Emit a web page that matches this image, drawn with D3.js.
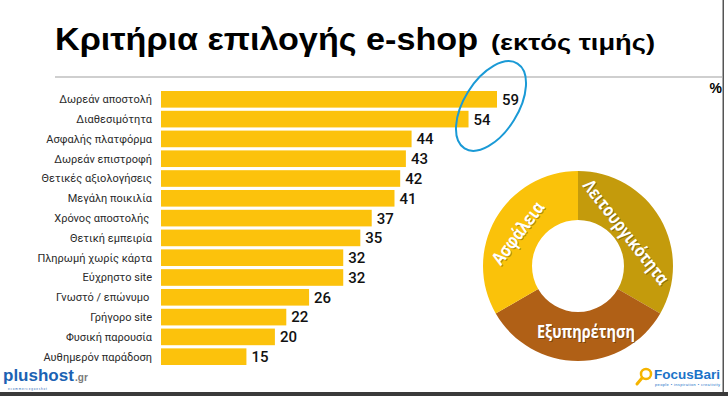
<!DOCTYPE html>
<html>
<head>
<meta charset="utf-8">
<script src="https://cdn.jsdelivr.net/npm/d3@7"></script>
<style>
 body { margin: 0; background: #fff; }
 svg { display: block; }
</style>
</head>
<body>
<svg width="728" height="396"></svg>
<script>
// Data.

var categories = ['Δωρεάν αποστολή', 'Διαθεσιμότητα', 'Ασφαλής πλατφόρμα', 'Δωρεάν επιστροφή',
 'Θετικές αξιολογήσεις', 'Μεγάλη ποικιλία', 'Χρόνος αποστολής ', 'Θετική εμπειρία',
 'Πληρωμή χωρίς κάρτα', 'Εύχρηστο site', 'Γνωστό / επώνυμο ', 'Γρήγορο site',
 'Φυσική παρουσία', 'Αυθημερόν παράδοση'];
var values = [59, 54, 44, 43, 42, 41, 37, 35, 32, 32, 26, 22, 20, 15];

var donutLabels = ['Λειτουργικότητα', 'Εξυπηρέτηση', 'Ασφάλεια'];
var donutShares = [1, 1, 1];
var donutColors = ['#c49b0c', '#b06016', '#fac20a'];

var svg = d3.select('svg');

// Frame of the slide.

svg.append('rect').attr('x', 0).attr('y', 392).attr('width', 728).attr('height', 4).attr('fill', '#3a3a3a');
svg.append('rect').attr('x', 722.5).attr('y', 0).attr('width', 1.5).attr('height', 392).attr('fill', '#555');

// Title and rule.

var title = svg.append('text')
 .attr('x', 55)
 .attr('y', 50)
 .style('font-family', 'Liberation Sans, Arial, sans-serif')
 .style('font-weight', 'bold')
 .attr('fill', '#000');
title.append('tspan').style('font-size', '32px').attr('textLength', 423).attr('lengthAdjust', 'spacingAndGlyphs').text('Κριτήρια επιλογής e-shop');
title.append('tspan').attr('x', 491).style('font-size', '22px').attr('textLength', 164).attr('lengthAdjust', 'spacingAndGlyphs').text('(εκτός τιμής)');

svg.append('line')
 .attr('x1', 55).attr('x2', 722)
 .attr('y1', 77).attr('y2', 77)
 .attr('stroke', '#cfcfcf')
 .attr('stroke-width', 2);

svg.append('text')
 .attr('x', 722).attr('y', 93)
 .attr('text-anchor', 'end')
 .style('font-family', 'Liberation Sans, Arial, sans-serif')
 .style('font-weight', 'bold')
 .style('font-size', '14px')
 .text('%');

// Bars.

var x = d3.scaleLinear()
 .domain([0, 59])
 .range([161, 497]);

var y = d3.scaleBand()
 .domain(categories)
 .range([91, 365])
 .paddingInner(0.16)
 .paddingOuter(0);

var rows = svg.append('g')
 .selectAll('g')
 .data(categories)
 .enter().append('g');

rows.append('rect')
 .attr('x', x(0))
 .attr('y', function(d) { return y(d); })
 .attr('width', function(d, i) { return x(values[i]) - x(0); })
 .attr('height', y.bandwidth())
 .attr('fill', '#fcc20c');

rows.append('text')
 .attr('x', 152)
 .attr('y', function(d) { return y(d) + y.bandwidth() / 2; })
 .attr('dy', '0.35em')
 .attr('text-anchor', 'end')
 .style('white-space', 'pre')
 .style('font-family', 'Roboto, sans-serif')
 .style('font-size', '11px')
 .attr('fill', '#2a2a2a')
 .text(function(d) { return d; });

rows.append('text')
 .attr('x', function(d, i) { return x(values[i]) + 5; })
 .attr('y', function(d) { return y(d) + y.bandwidth() / 2; })
 .attr('dy', '0.36em')
 .style('font-family', 'Roboto, sans-serif')
 .style('font-weight', 500)
 .style('font-size', '15px')
 .attr('fill', '#111')
 .text(function(d, i) { return values[i]; });

// Blue highlight ring around the top two values.

svg.append('ellipse')
 .attr('transform', 'translate(491,106) rotate(-58)')
 .attr('rx', 50)
 .attr('ry', 27)
 .attr('fill', 'none')
 .attr('stroke', '#1a9ad6')
 .attr('stroke-width', 2);

// Donut of the three groups.

var cx = 578, cy = 266;
var pie = d3.pie().sort(null)(donutShares);
var arc = d3.arc().innerRadius(46).outerRadius(95);

var donut = svg.append('g').attr('transform', 'translate(' + cx + ',' + cy + ')');

donut.selectAll('path')
 .data(pie)
 .enter().append('path')
 .attr('d', arc)
 .attr('fill', function(d, i) { return donutColors[i]; });

var labelPos = [
 {dx: 48, dy: -34, rot: 52, len: 127},
 {dx: 8, dy: 66, rot: 0, len: 98},
 {dx: -60, dy: -33, rot: -53, len: 74}
];

var shadow = donut.append('g').attr('fill', 'rgba(0,0,0,0.3)');
var labels = donut.append('g').attr('fill', '#fff');

[shadow, labels].forEach(function(g, k) {
 g.selectAll('text')
 .data(donutLabels)
 .enter().append('text')
 .attr('transform', function(d, i) {
  var p = labelPos[i];
  return 'translate(' + (p.dx + 1 - k) + ',' + (p.dy + 1 - k) + ') rotate(' + p.rot + ')';
 })
 .attr('text-anchor', 'middle')
 .attr('dy', '0.35em')
 .attr('textLength', function(d, i) { return labelPos[i].len; })
 .attr('lengthAdjust', 'spacingAndGlyphs')
 .style('font-family', 'Open Sans, sans-serif')
 .style('font-weight', 700)
 .style('font-size', '18px')
 .text(function(d) { return d; });
});

// Logos.

svg.append('text')
 .attr('x', 3).attr('y', 381)
 .style('font-family', 'Liberation Sans, Arial, sans-serif')
 .style('font-weight', 'bold')
 .style('font-size', '17px')
 .attr('fill', '#1b62b3')
 .text('plushost');
svg.append('text')
 .attr('x', 75).attr('y', 381)
 .style('font-family', 'Liberation Sans, Arial, sans-serif')
 .style('font-weight', 'bold')
 .style('font-size', '10px')
 .attr('fill', '#7a7a7a')
 .text('.gr');
svg.append('text')
 .attr('x', 8).attr('y', 390)
 .style('font-family', 'Liberation Sans, Arial, sans-serif')
 .style('font-size', '3px')
 .attr('fill', '#1b62b3')
 .text('e c o m m e r c e   g o e s   h o t');

svg.append('circle')
 .attr('cx', 646).attr('cy', 374).attr('r', 5)
 .attr('fill', 'none').attr('stroke', '#f5b400').attr('stroke-width', 2.5);
svg.append('line')
 .attr('x1', 642).attr('y1', 378).attr('x2', 637).attr('y2', 384)
 .attr('stroke', '#f5b400').attr('stroke-width', 3).attr('stroke-linecap', 'round');
svg.append('text')
 .attr('x', 654).attr('y', 379)
 .style('font-family', 'Liberation Sans, Arial, sans-serif')
 .style('font-weight', 'bold')
 .style('font-size', '13px')
 .attr('fill', '#1a73c8')
 .attr('textLength', 66).attr('lengthAdjust', 'spacingAndGlyphs')
 .text('FocusBari');
svg.append('text')
 .attr('x', 655).attr('y', 386)
 .style('font-family', 'Liberation Sans, Arial, sans-serif')
 .style('font-size', '4px')
 .attr('fill', '#1a73c8')
 .attr('textLength', 65)
 .text('people • inspiration • creativity');
</script>
</body>
</html>
